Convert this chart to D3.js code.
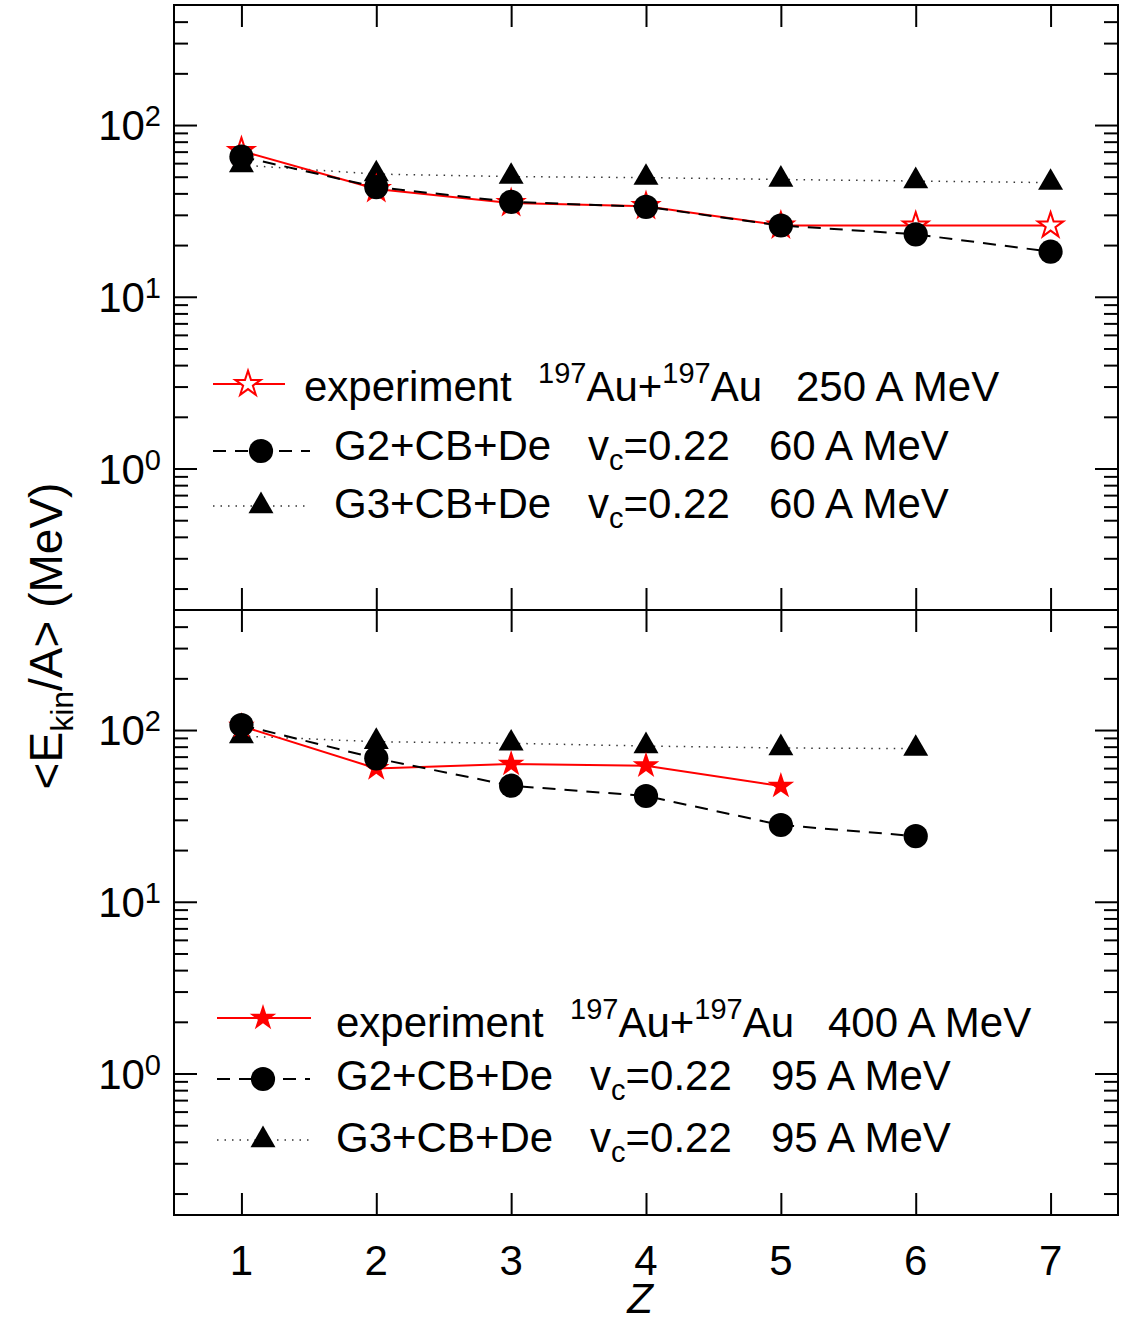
<!DOCTYPE html>
<html>
<head>
<meta charset="utf-8">
<script src="https://cdn.jsdelivr.net/npm/d3@7"></script>
<style>
  body { margin: 0; background: #fff; }
  text { font-family: "Liberation Sans", Arial, sans-serif; }
</style>
</head>
<body>
<svg id="chart" width="1132" height="1318"></svg>
<script>
// Z values
const zTicks = [1, 2, 3, 4, 5, 6, 7];

// top panel: Au+Au 250 A MeV vs 60 A MeV calc
const topZ = [1, 2, 3, 4, 5, 6, 7];
const topExp = [70.6, 42.4, 35.1, 33.7, 26.0, 26.0, 26.0];
const topG2 = [65.4, 43.5, 35.7, 33.4, 26.0, 23.1, 18.3];
const topG3 = [58.5, 51.8, 50.1, 49.4, 48.2, 47.2, 46.2];

// bottom panel: Au+Au 400 A MeV vs 95 A MeV calc
const botZexp = [1, 2, 3, 4, 5];
const botExp = [105.5, 59.8, 63.4, 62.0, 47.2];
const botZ = [1, 2, 3, 4, 5, 6];
const botG2 = [107, 68.4, 47.4, 41.3, 28.0, 24.1];
const botG3 = [92.3, 85.5, 83.7, 80.7, 78.6, 78.0];

const decades = [0, 1, 2];
const yDomain = [0.15, 500];

const svg = d3.select("#chart");
const left = 174, right = 1118;
const panels = [
  { top: 5, bottom: 610 },
  { top: 610, bottom: 1215 }
];
const fs = 42, fsSmall = 29;

const x = d3.scaleLinear().domain([0.5, 7.5]).range([left, right]);

// minor tick values (2..9 per decade) inside domain
const minorVals = [];
for (let e = -1; e <= 2; e++) {
  for (let m = 2; m <= 9; m++) {
    const v = m * Math.pow(10, e);
    if (v > yDomain[0] && v < yDomain[1]) minorVals.push(v);
  }
}

function drawPanel(p) {
  const y = d3.scaleLog().domain(yDomain).range([p.bottom, p.top]);
  const g = svg.append("g");
  const majors = decades.map(d => Math.pow(10, d));

  // left / right axes with inward ticks
  const yl = g.append("g").attr("transform", `translate(${left},0)`);
  yl.call(d3.axisRight(y).tickValues(majors).tickSize(23).tickFormat(""));
  yl.append("g").call(d3.axisRight(y).tickValues(minorVals).tickSize(14).tickFormat(""));
  const yr = g.append("g").attr("transform", `translate(${right},0)`);
  yr.call(d3.axisLeft(y).tickValues(majors).tickSize(23).tickFormat(""));
  yr.append("g").call(d3.axisLeft(y).tickValues(minorVals).tickSize(14).tickFormat(""));

  // top / bottom x ticks, inward
  g.append("g").attr("transform", `translate(0,${p.top})`)
    .call(d3.axisBottom(x).tickValues(zTicks).tickSize(22).tickFormat(""));
  g.append("g").attr("transform", `translate(0,${p.bottom})`)
    .call(d3.axisTop(x).tickValues(zTicks).tickSize(22).tickFormat(""));

  g.selectAll(".domain").remove();
  g.selectAll(".tick line").attr("stroke", "#000").attr("stroke-width", 2);

  // frame
  g.append("rect").attr("x", left).attr("y", p.top)
    .attr("width", right - left).attr("height", p.bottom - p.top)
    .attr("fill", "none").attr("stroke", "#000").attr("stroke-width", 2);

  // y tick labels 10^n
  decades.forEach(d => {
    const t = g.append("text").attr("x", 161).attr("y", y(Math.pow(10, d)) + 15)
      .attr("text-anchor", "end").attr("font-size", fs).attr("fill", "#000");
    t.append("tspan").text("10");
    t.append("tspan").attr("font-size", fsSmall).attr("dy", -14).text(d);
  });

  return y;
}

function drawSeries(y, zs, vals, opt) {
  const line = d3.line().x((d, i) => x(zs[i])).y(d => y(d));
  svg.append("path").datum(vals).attr("d", line)
    .attr("fill", "none").attr("stroke", opt.color)
    .attr("stroke-width", opt.width)
    .attr("stroke-dasharray", opt.dash || null);
}

function drawMarks(y, zs, vals, sym) {
  svg.append("g").selectAll("path").data(vals).join("path")
    .attr("transform", (d, i) => `translate(${x(zs[i])},${y(d)})`)
    .attr("d", sym.path)
    .attr("fill", sym.fill).attr("stroke", sym.stroke || "none")
    .attr("stroke-width", sym.sw || 0);
}

const circleSym = { path: d3.symbol(d3.symbolCircle, 460)(), fill: "#000" };
const triSym = { path: d3.symbol(d3.symbolTriangle, 270)(), fill: "#000" };
const openStar = { path: d3.symbol(d3.symbolStar, 200)(), fill: "#fff", stroke: "#ff0000", sw: 2 };
const fullStar = { path: d3.symbol(d3.symbolStar, 220)(), fill: "#ff0000" };

const dashG2 = "13,9";
const dotG3 = "1.5,6";
const g3Color = "#333";

// top panel
const yTop = drawPanel(panels[0]);
drawSeries(yTop, topZ, topG3, { color: g3Color, width: 1.5, dash: dotG3 });
drawSeries(yTop, topZ, topExp, { color: "#ff0000", width: 2 });
drawSeries(yTop, topZ, topG2, { color: "#000", width: 2, dash: dashG2 });
drawMarks(yTop, topZ, topG3, triSym);
drawMarks(yTop, topZ, topExp, openStar);
drawMarks(yTop, topZ, topG2, circleSym);

// bottom panel
const yBot = drawPanel(panels[1]);
drawSeries(yBot, botZ, botG3, { color: g3Color, width: 1.5, dash: dotG3 });
drawSeries(yBot, botZexp, botExp, { color: "#ff0000", width: 2 });
drawSeries(yBot, botZ, botG2, { color: "#000", width: 2, dash: dashG2 });
drawMarks(yBot, botZ, botG3, triSym);
drawMarks(yBot, botZexp, botExp, fullStar);
drawMarks(yBot, botZ, botG2, circleSym);

// x tick labels
svg.append("g").selectAll("text").data(zTicks).join("text")
  .attr("x", d => x(d)).attr("y", 1275)
  .attr("text-anchor", "middle").attr("font-size", fs).text(d => d);

// x label
svg.append("text").attr("x", 640).attr("y", 1313).attr("text-anchor", "middle")
  .attr("font-size", 42).attr("font-style", "italic").text("Z");

// y label
const ylab = svg.append("text").attr("transform", "translate(62,636) rotate(-90)")
  .attr("text-anchor", "middle").attr("font-size", 46);
ylab.append("tspan").text("<E");
ylab.append("tspan").attr("font-size", 32).attr("dy", 11).text("kin");
ylab.append("tspan").attr("dy", -11).text("/A> (MeV)");

// legends
function legendRow(cx, cy, x0, x1, sym, lineOpt) {
  svg.append("line").attr("x1", x0).attr("x2", x1).attr("y1", cy).attr("y2", cy)
    .attr("stroke", lineOpt.color).attr("stroke-width", lineOpt.width)
    .attr("stroke-dasharray", lineOpt.dash || null);
  svg.append("path").attr("transform", `translate(${cx},${cy})`).attr("d", sym.path)
    .attr("fill", sym.fill).attr("stroke", sym.stroke || "none").attr("stroke-width", sym.sw || 0);
}

function expText(xs, baseline, energy) {
  svg.append("text").attr("x", xs[0]).attr("y", baseline).attr("font-size", fs).text("experiment");
  const t = svg.append("text").attr("y", baseline).attr("font-size", fs);
  t.append("tspan").attr("x", xs[1]).attr("dy", -18).attr("font-size", fsSmall).text("197");
  t.append("tspan").attr("dy", 18).text("Au+");
  t.append("tspan").attr("dy", -18).attr("font-size", fsSmall).text("197");
  t.append("tspan").attr("dy", 18).text("Au");
  svg.append("text").attr("x", xs[2]).attr("y", baseline).attr("font-size", fs).text(energy);
}

function modelText(xs, baseline, name, energy) {
  svg.append("text").attr("x", xs[0]).attr("y", baseline).attr("font-size", fs).text(name);
  const t = svg.append("text").attr("x", xs[1]).attr("y", baseline).attr("font-size", fs);
  t.append("tspan").text("v");
  t.append("tspan").attr("dy", 10).attr("font-size", fsSmall).text("c");
  t.append("tspan").attr("dy", -10).text("=0.22");
  svg.append("text").attr("x", xs[2]).attr("y", baseline).attr("font-size", fs).text(energy);
}

// top legend
legendRow(248, 384, 213, 285, openStar, { color: "#ff0000", width: 2 });
legendRow(261, 451, 213, 310, circleSym, { color: "#000", width: 2, dash: dashG2 });
legendRow(261, 506, 213, 310, triSym, { color: g3Color, width: 1.5, dash: dotG3 });
expText([304, 538, 796], 401, "250 A MeV");
modelText([334, 588, 769], 460, "G2+CB+De", "60 A MeV");
modelText([334, 588, 769], 518, "G3+CB+De", "60 A MeV");

// bottom legend
legendRow(263, 1018, 217, 311, fullStar, { color: "#ff0000", width: 2 });
legendRow(263, 1079, 217, 310, circleSym, { color: "#000", width: 2, dash: dashG2 });
legendRow(263, 1140, 217, 310, triSym, { color: g3Color, width: 1.5, dash: dotG3 });
expText([336, 570, 828], 1037, "400 A MeV");
modelText([336, 590, 771], 1090, "G2+CB+De", "95 A MeV");
modelText([336, 590, 771], 1152, "G3+CB+De", "95 A MeV");
</script>
</body>
</html>
